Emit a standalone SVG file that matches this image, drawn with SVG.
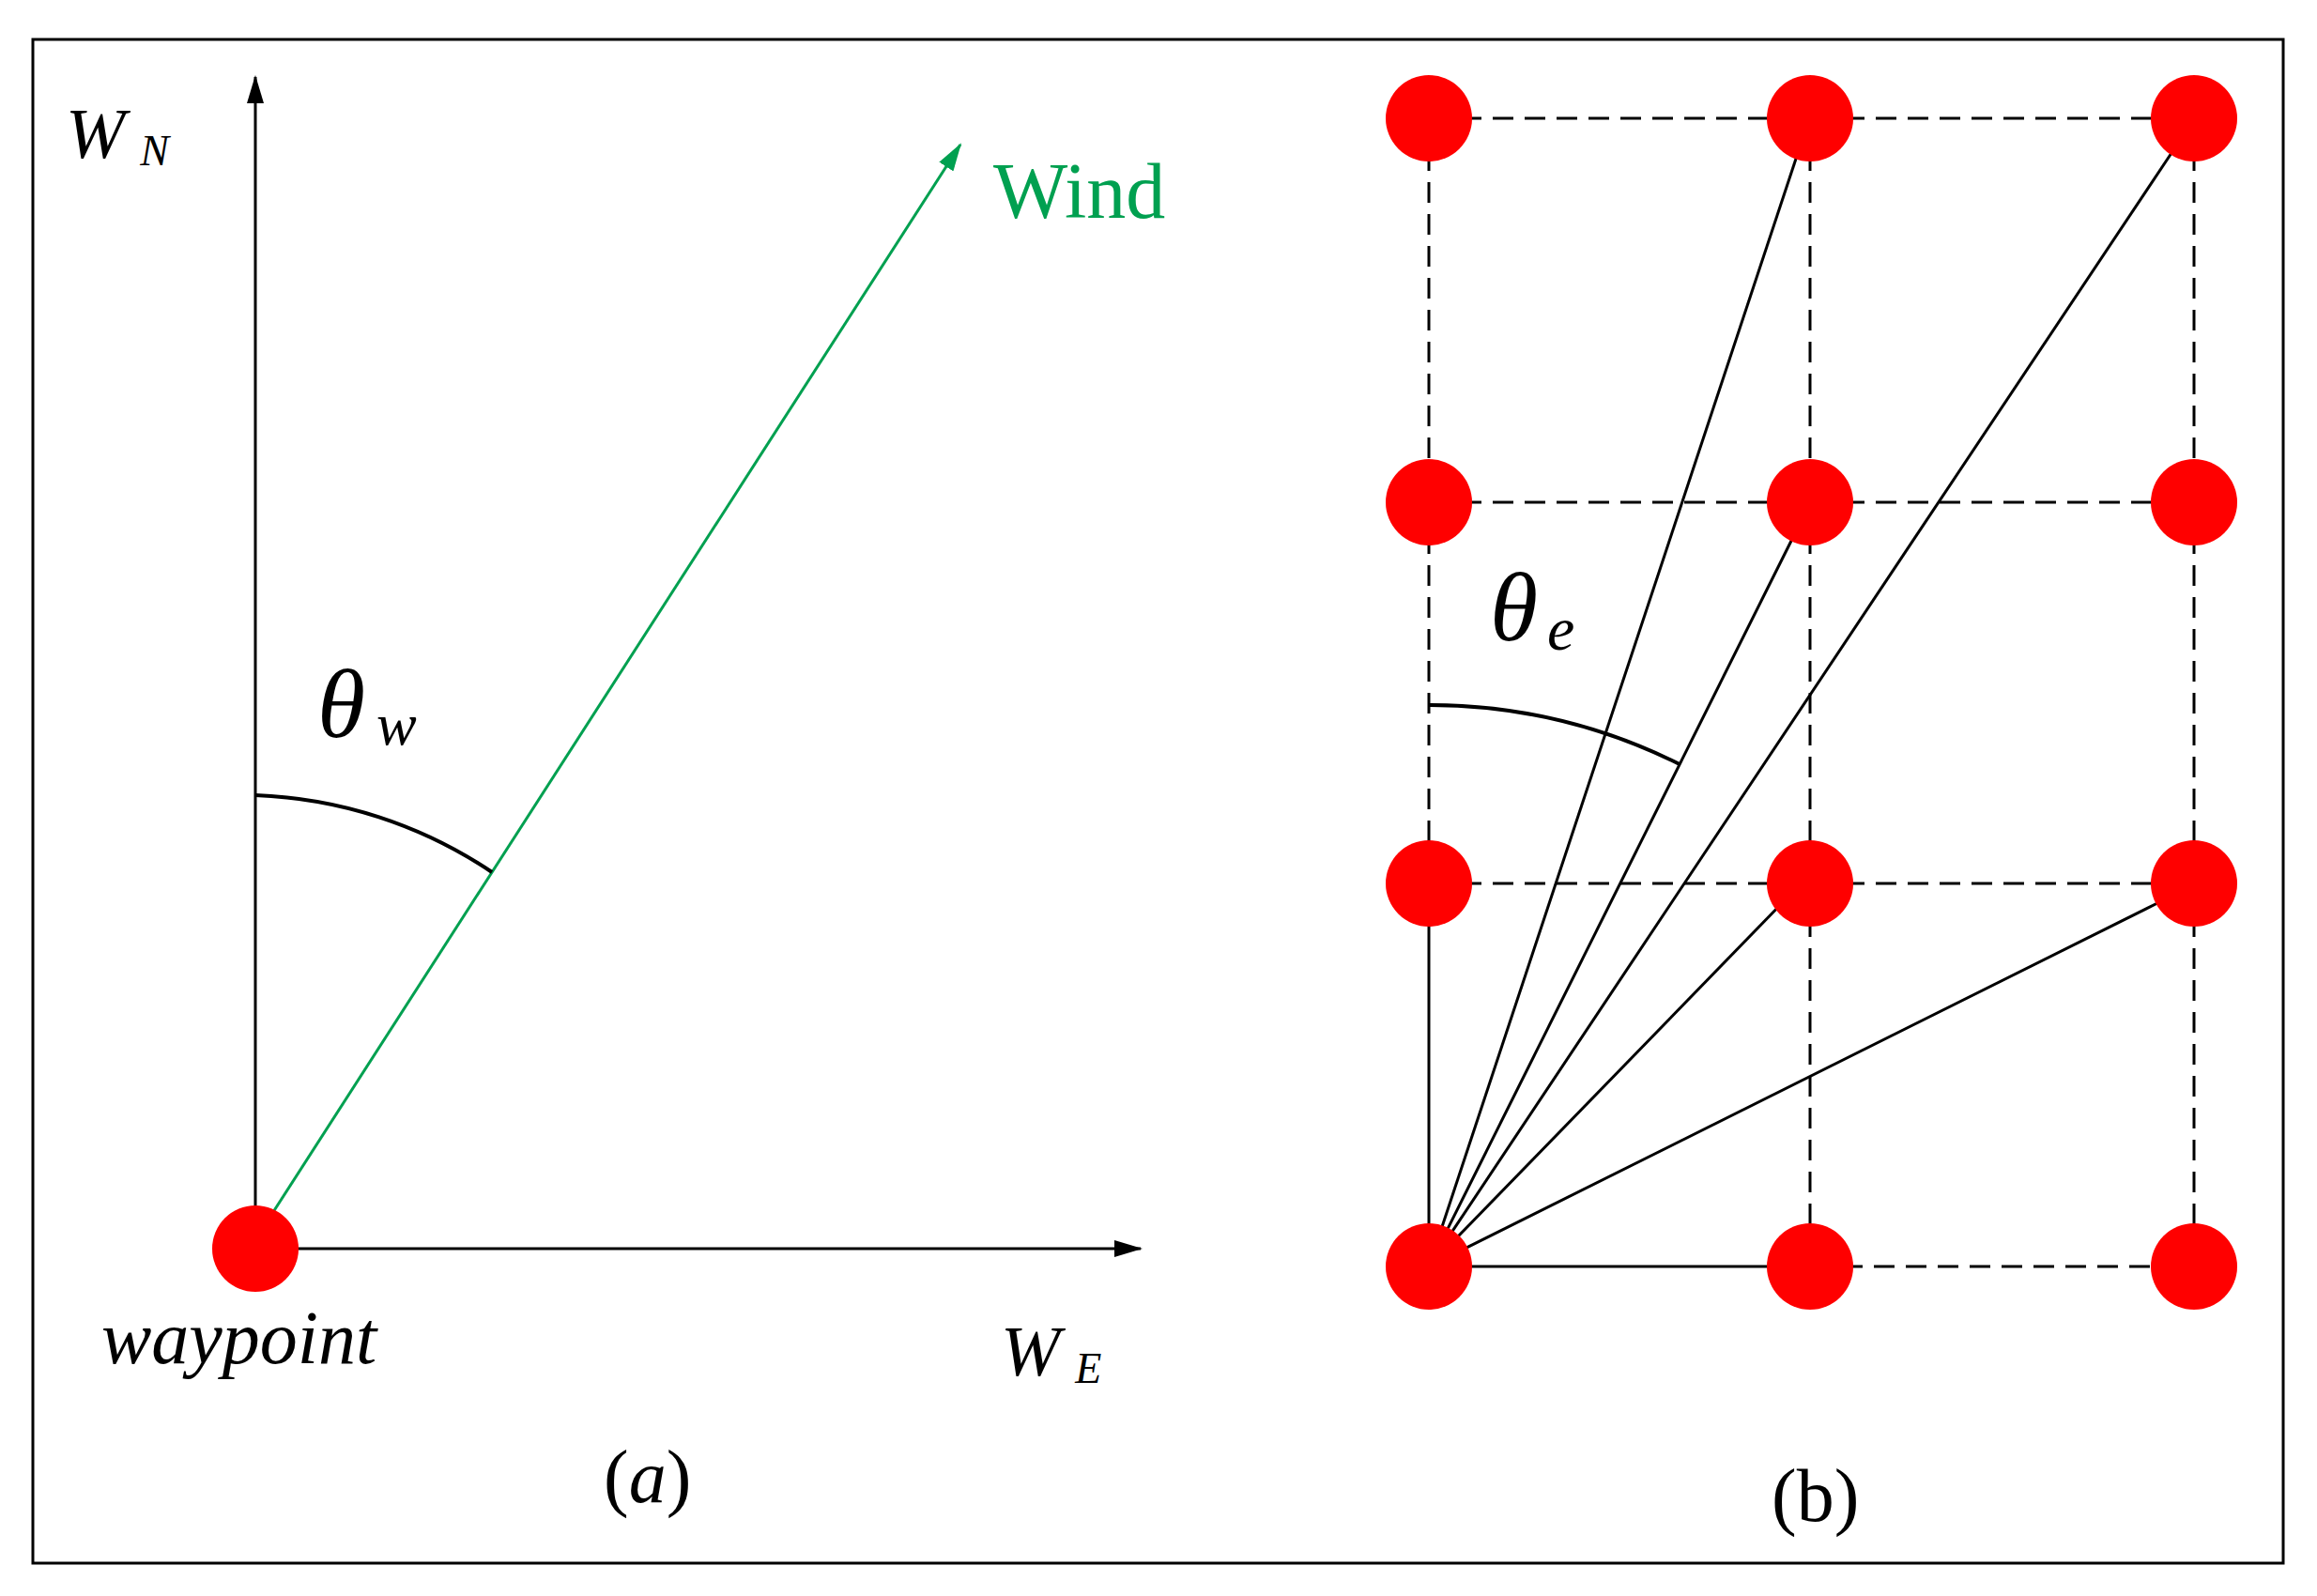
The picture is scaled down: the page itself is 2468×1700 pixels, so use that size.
<svg xmlns="http://www.w3.org/2000/svg" width="2468" height="1700" viewBox="0 0 2468 1700">
<style>
.ln{stroke:#000;stroke-width:3;fill:none}
.dl{stroke:#000;stroke-width:3;fill:none;stroke-dasharray:22 12}
.arc{stroke:#000;stroke-width:4;fill:none}
.nd{fill:#ff0000}
.t{font-family:"Liberation Serif",serif;font-style:italic;fill:#000}
</style>
<defs>
<marker id="ab" markerWidth="30" markerHeight="18" refX="28" refY="9" orient="auto" markerUnits="userSpaceOnUse" viewBox="0 0 30 18"><path d="M0,0L30,9L0,18z" fill="#000"/></marker>
<marker id="ag" markerWidth="30" markerHeight="18" refX="28" refY="9" orient="auto" markerUnits="userSpaceOnUse" viewBox="0 0 30 18"><path d="M0,0L30,9L0,18z" fill="#00a050"/></marker>
</defs>
<rect x="35" y="42" width="2397" height="1623" fill="#fff" stroke="#000" stroke-width="3"/>
<g id="connectors">
<line class="ln" x1="272" y1="1330" x2="272" y2="82" marker-end="url(#ab)"/>
<line class="ln" x1="272" y1="1330" x2="1215" y2="1330" marker-end="url(#ab)"/>
<line x1="291" y1="1291" x2="1023" y2="154" stroke="#00a050" stroke-width="3" marker-end="url(#ag)"/>
<path class="arc" d="M272,847 A483,483 0 0 1 524,929"/>
<line class="dl" x1="1522" y1="126" x2="2337" y2="126"/>
<line class="dl" x1="1522" y1="535" x2="2337" y2="535"/>
<line class="dl" x1="1522" y1="941" x2="2337" y2="941"/>
<line class="dl" x1="1928" y1="1349" x2="2337" y2="1349"/>
<line class="ln" x1="1522" y1="1349" x2="1928" y2="1349"/>
<line class="dl" x1="1522" y1="126" x2="1522" y2="941"/>
<line class="ln" x1="1522" y1="941" x2="1522" y2="1349"/>
<line class="dl" x1="1928" y1="126" x2="1928" y2="1349"/>
<line class="dl" x1="2337" y1="126" x2="2337" y2="1349"/>
<line class="ln" x1="1522" y1="1349" x2="1916" y2="160"/>
<line class="ln" x1="1522" y1="1349" x2="1916" y2="560"/>
<line class="ln" x1="1522" y1="1349" x2="1902" y2="958"/>
<line class="ln" x1="1522" y1="1349" x2="2315" y2="160"/>
<line class="ln" x1="1522" y1="1349" x2="2298" y2="962"/>
<path class="arc" d="M1522,751 A598,598 0 0 1 1789,814"/>
</g>
<g id="waypoint"><circle class="nd" cx="272" cy="1330" r="46"/></g>
<g id="grid-nodes">
<circle class="nd" cx="1522" cy="126" r="46"/><circle class="nd" cx="1928" cy="126" r="46"/><circle class="nd" cx="2337" cy="126" r="46"/>
<circle class="nd" cx="1522" cy="535" r="46"/><circle class="nd" cx="1928" cy="535" r="46"/><circle class="nd" cx="2337" cy="535" r="46"/>
<circle class="nd" cx="1522" cy="941" r="46"/><circle class="nd" cx="1928" cy="941" r="46"/><circle class="nd" cx="2337" cy="941" r="46"/>
<circle class="nd" cx="1522" cy="1349" r="46"/><circle class="nd" cx="1928" cy="1349" r="46"/><circle class="nd" cx="2337" cy="1349" r="46"/>
</g>
<g id="labels">
<text class="t" x="70" y="168" font-size="76">W<tspan font-size="46" dx="16" dy="8">N</tspan></text>
<text x="1058" y="232" font-family="Liberation Serif,serif" font-size="84" fill="#00a050">Wind</text>
<text class="t" x="338" y="785" font-size="104">θ<tspan font-size="64" dx="12" dy="8">w</tspan></text>
<text class="t" x="108" y="1452" font-size="80">waypoint</text>
<text class="t" x="1066" y="1465" font-size="76">W<tspan font-size="46" dx="16" dy="8">E</tspan></text>
<text x="643" y="1600" font-family="Liberation Serif,serif" font-size="80">(<tspan font-style="italic">a</tspan>)</text>
<text class="t" x="1587" y="682" font-size="104">θ<tspan font-size="66" dx="10" dy="10">e</tspan></text>
<text x="1887" y="1620" font-family="Liberation Serif,serif" font-size="80">(b)</text>
</g>
</svg>
